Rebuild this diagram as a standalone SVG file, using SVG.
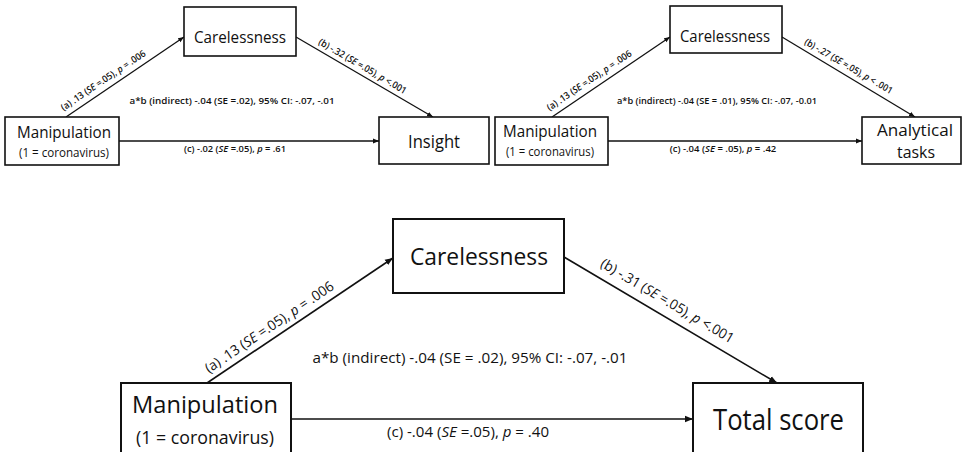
<svg xmlns="http://www.w3.org/2000/svg" width="962" height="452" viewBox="0 0 962 452">
<defs>
<marker id="arr" viewBox="0 0 10 10" refX="10" refY="5" markerWidth="6" markerHeight="6" markerUnits="userSpaceOnUse" orient="auto">
<path d="M0,1 L10,5 L0,9 z" fill="#111"/>
</marker>
<marker id="arrL" viewBox="0 0 10 10" refX="10" refY="5" markerWidth="8" markerHeight="8" markerUnits="userSpaceOnUse" orient="auto">
<path d="M0,1 L10,5 L0,9 z" fill="#111"/>
</marker>
</defs>
<style>
text{font-family:"Open Sans","Noto Sans","Liberation Sans",sans-serif;fill:#111;}
.box{fill:#fff;stroke:#111;stroke-width:1.6;}
.boxL{fill:#fff;stroke:#111;stroke-width:2;}
.ln{stroke:#111;stroke-width:1.3;fill:none;marker-end:url(#arr);}
.lnL{stroke:#111;stroke-width:1.6;fill:none;marker-end:url(#arrL);}
.c{text-anchor:middle;}
.s{font-size:9.5px;font-weight:600;}
.m{font-size:14px;}
.i{font-style:italic;}
</style>
<rect width="962" height="452" fill="#fff"/>

<g id="connectors">
<line class="ln" x1="66" y1="117" x2="184" y2="37"/>
<line class="ln" x1="296" y1="37" x2="433" y2="117"/>
<line class="ln" x1="119" y1="141" x2="379" y2="141"/>
<line class="ln" x1="552" y1="117" x2="670" y2="37"/>
<line class="ln" x1="782" y1="37" x2="915" y2="117"/>
<line class="ln" x1="608" y1="141" x2="862" y2="141"/>
<line class="lnL" x1="207" y1="383" x2="393" y2="258"/>
<line class="lnL" x1="564" y1="257" x2="777" y2="383"/>
<line class="lnL" x1="291" y1="419" x2="693" y2="419"/>
</g>

<g id="labels">
<text class="s c" x="232" y="104" textLength="205" lengthAdjust="spacingAndGlyphs">a*b (indirect) -.04 (SE =.02), 95% CI: -.07, -.01</text>
<text class="s c" x="235" y="152" textLength="102" lengthAdjust="spacingAndGlyphs">(c) -.02 (<tspan class="i">SE</tspan> =.05), <tspan class="i">p</tspan> = .61</text>
<text class="s c" transform="translate(105,83) rotate(-34)" textLength="100" lengthAdjust="spacingAndGlyphs">(a)  .13 (<tspan class="i">SE</tspan> =.05), <tspan class="i">p</tspan> = .006</text>
<text class="s c" transform="translate(361,69) rotate(30.3)" textLength="100" lengthAdjust="spacingAndGlyphs">(b) -.32 (<tspan class="i">SE</tspan> =.05), <tspan class="i">p</tspan> &lt;.001</text>

<text class="s c" x="717" y="104" textLength="200" lengthAdjust="spacingAndGlyphs">a*b (indirect) -.04 (SE = .01), 95% CI: -.07, -0.01</text>
<text class="s c" x="723" y="152" font-size="8.6px">(c) -.04 (<tspan class="i">SE</tspan> = .05), <tspan class="i">p</tspan> = .42</text>
<text class="s c" transform="translate(591,83) rotate(-34)" textLength="100" lengthAdjust="spacingAndGlyphs">(a)  .13 (<tspan class="i">SE</tspan> =.05), <tspan class="i">p</tspan> = .006</text>
<text class="s c" transform="translate(847,69) rotate(30.3)" textLength="100" lengthAdjust="spacingAndGlyphs">(b) -.27 (<tspan class="i">SE</tspan> =.05), <tspan class="i">p</tspan> &lt; .001</text>

<text class="m c" x="470" y="363" textLength="315" lengthAdjust="spacingAndGlyphs">a*b (indirect) -.04 (SE = .02), 95% CI: -.07, -.01</text>
<text class="m c" x="468" y="437" textLength="162" lengthAdjust="spacingAndGlyphs">(c) -.04 (<tspan class="i">SE</tspan> =.05), <tspan class="i">p</tspan> = .40</text>
<text class="m c" transform="translate(272,331) rotate(-33.9)" textLength="152" lengthAdjust="spacingAndGlyphs">(a)  .13 (<tspan class="i">SE</tspan> =.05), <tspan class="i">p</tspan> = .006</text>
<text class="m c" transform="translate(665,305) rotate(30.6)" textLength="152" lengthAdjust="spacingAndGlyphs">(b) -.31 (<tspan class="i">SE</tspan> =.05), <tspan class="i">p</tspan> &lt;.001</text>
</g>

<g id="tl-manipulation">
<rect class="box" x="5" y="117" width="114" height="48"/>
<text class="c" x="64" y="138" font-size="16.5" textLength="94" lengthAdjust="spacingAndGlyphs">Manipulation</text>
<text class="c" x="64" y="157" font-size="12" textLength="90" lengthAdjust="spacingAndGlyphs">(1 = coronavirus)</text>
</g>
<g id="tl-carelessness">
<rect class="box" x="184" y="7" width="112" height="49"/>
<text class="c" x="240" y="43" font-size="16.5" textLength="92" lengthAdjust="spacingAndGlyphs">Carelessness</text>
</g>
<g id="tl-insight">
<rect class="box" x="379" y="117" width="110" height="47"/>
<text class="c" x="434" y="148" font-size="18.5" textLength="52" lengthAdjust="spacingAndGlyphs">Insight</text>
</g>

<g id="tr-manipulation">
<rect class="box" x="495" y="117" width="113" height="48"/>
<text class="c" x="550" y="137" font-size="16.5" textLength="94" lengthAdjust="spacingAndGlyphs">Manipulation</text>
<text class="c" x="550" y="156" font-size="12" textLength="88" lengthAdjust="spacingAndGlyphs">(1 = coronavirus)</text>
</g>
<g id="tr-carelessness">
<rect class="box" x="670" y="6" width="112" height="47"/>
<text class="c" x="725" y="42" font-size="16.5" textLength="90" lengthAdjust="spacingAndGlyphs">Carelessness</text>
</g>
<g id="tr-analytical">
<rect class="box" x="862" y="117" width="99" height="47"/>
<text class="c" x="915" y="136" font-size="17" textLength="76" lengthAdjust="spacingAndGlyphs">Analytical</text>
<text class="c" x="916" y="158" font-size="17" textLength="38" lengthAdjust="spacingAndGlyphs">tasks</text>
</g>

<g id="b-manipulation">
<rect class="boxL" x="121" y="383" width="170" height="90"/>
<text class="c" x="205" y="413" font-size="24" textLength="146" lengthAdjust="spacingAndGlyphs">Manipulation</text>
<text class="c" x="205" y="444" font-size="17.5" textLength="138" lengthAdjust="spacingAndGlyphs">(1 = coronavirus)</text>
</g>
<g id="b-carelessness">
<rect class="boxL" x="393" y="219" width="171" height="74"/>
<text class="c" x="479" y="265" font-size="24" textLength="138" lengthAdjust="spacingAndGlyphs">Carelessness</text>
</g>
<g id="b-total">
<rect class="boxL" x="693" y="383" width="170" height="90"/>
<text class="c" x="778.5" y="430" font-size="28.5" textLength="131" lengthAdjust="spacingAndGlyphs">Total score</text>
</g>
</svg>
